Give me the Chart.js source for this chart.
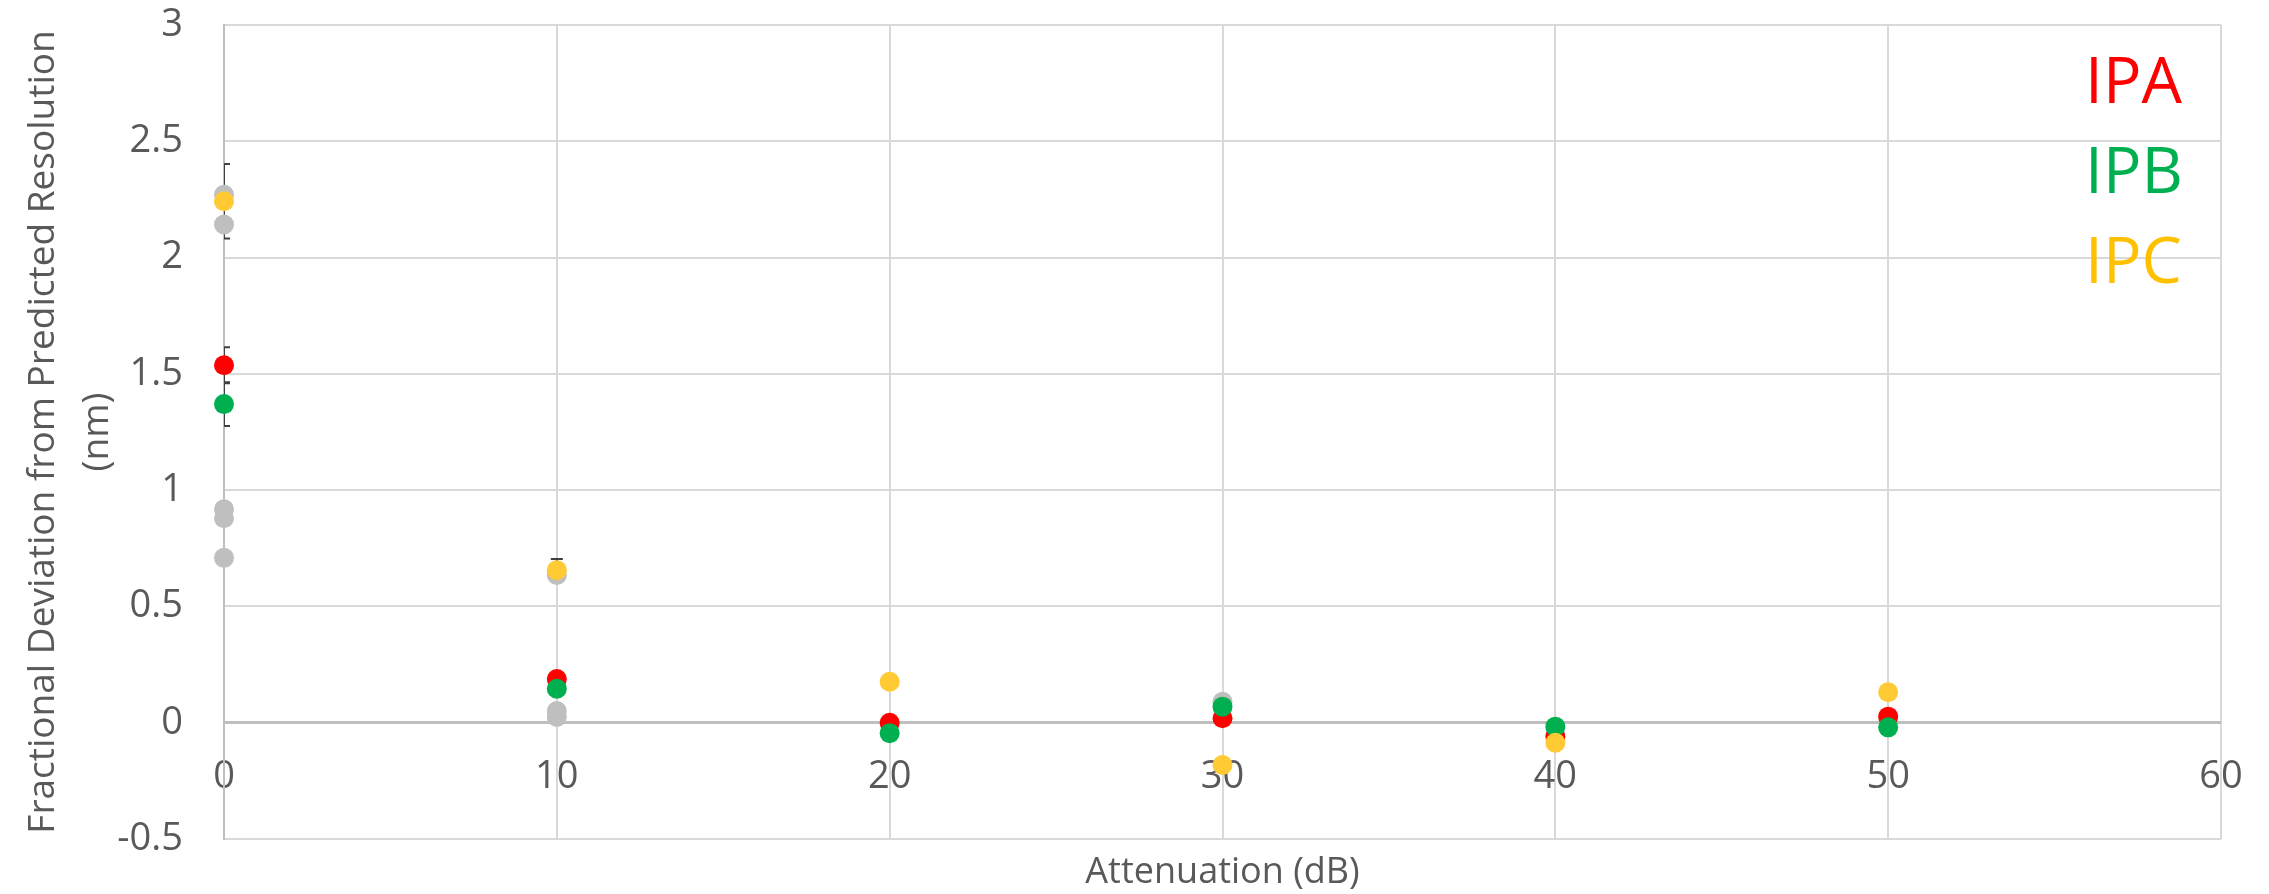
<!DOCTYPE html>
<html>
<head>
<meta charset="utf-8">
<title>Fractional Deviation vs Attenuation</title>
<script src="https://cdn.jsdelivr.net/npm/chart.js@4.4.1/dist/chart.umd.min.js"></script>
<style>
  html, body { margin: 0; padding: 0; background: #fff; }
  #wrap { width: 2269px; height: 894px; position: relative; }
</style>
</head>
<body>
<div id="wrap"><canvas id="chart"></canvas></div>
<script>
// ===========================
// Data
// ===========================
const attenuation = [0, 10, 20, 30, 40, 50]
const ipaValues = [1.537, 0.188, 0.0, 0.019, -0.06, 0.026]
const ipbValues = [1.37, 0.146, -0.045, 0.069, -0.017, -0.02]
const ipcValues = [2.242, 0.656, 0.176, -0.182, -0.086, 0.131]
const ipaErrors = [0.077, 0, 0, 0, 0, 0]
const ipbErrors = [0.094, 0, 0, 0, 0, 0]
const ipcErrors = [0.16, 0.048, 0, 0, 0, 0]

// unlabelled grey points
const otherX = [0, 0, 0, 0, 0, 10, 10, 10, 30]
const otherY = [2.27, 2.142, 0.918, 0.879, 0.709, 0.635, 0.05, 0.025, 0.09]

const seriesNames = ['IPA', 'IPB', 'IPC']
const xTicks = [0, 10, 20, 30, 40, 50, 60]
const yTicks = [-0.5, 0, 0.5, 1, 1.5, 2, 2.5, 3]

const FONT = '"Open Sans", "Noto Sans", sans-serif'
const TEXT = '#595959'
const colors = {
  red: '#ff0000',
  green: '#00b050',
  yellow: '#ffca33',
  yellowText: '#ffc000',
  grey: '#bfbfbf'
}

const toPoints = (xs, ys) => xs.map((x, i) => ({ x, y: ys[i] }))
const fixedTicks = (values) => (scale) => { scale.ticks = values.map((value) => ({ value })) }

// error bars drawn under the markers
const errorBars = {
  id: 'errorBars',
  beforeDatasetsDraw(chart) {
    const { ctx, chartArea, scales } = chart
    ctx.save()
    ctx.beginPath()
    ctx.rect(chartArea.left, chartArea.top, chartArea.width, chartArea.height)
    ctx.clip()
    ctx.strokeStyle = '#404040'
    ctx.lineWidth = 2
    chart.data.datasets.forEach((ds) => {
      if (!ds.errors) return
      ds.data.forEach((p, i) => {
        const e = ds.errors[i]
        if (!e) return
        const px = scales.x.getPixelForValue(p.x)
        const top = scales.y.getPixelForValue(p.y + e)
        const bot = scales.y.getPixelForValue(p.y - e)
        ctx.beginPath()
        ctx.moveTo(px, top)
        ctx.lineTo(px, bot)
        ctx.moveTo(px - 6, top)
        ctx.lineTo(px + 6, top)
        ctx.moveTo(px - 6, bot)
        ctx.lineTo(px + 6, bot)
        ctx.stroke()
      })
    })
    ctx.restore()
  }
}

// coloured series names, top right inside the plot
const textLegend = {
  id: 'textLegend',
  afterDraw(chart) {
    const { ctx, chartArea } = chart
    const legendColors = [colors.red, colors.green, colors.yellowText]
    ctx.save()
    ctx.font = `64px ${FONT}`
    ctx.textAlign = 'left'
    ctx.textBaseline = 'alphabetic'
    seriesNames.forEach((name, i) => {
      ctx.fillStyle = legendColors[i]
      ctx.fillText(name, chartArea.right - 136, chartArea.top + 78 + i * 90)
    })
    ctx.restore()
  }
}

const pointStyle = (color, order) => ({
  backgroundColor: color,
  borderColor: color,
  borderWidth: 0,
  pointRadius: 10,
  pointHoverRadius: 10,
  clip: false,
  order
})

new Chart(document.getElementById('chart'), {
  type: 'scatter',
  data: {
    datasets: [
      { label: seriesNames[0], data: toPoints(attenuation, ipaValues), errors: ipaErrors, ...pointStyle(colors.red, 2) },
      { label: seriesNames[1], data: toPoints(attenuation, ipbValues), errors: ipbErrors, ...pointStyle(colors.green, 1) },
      { label: seriesNames[2], data: toPoints(attenuation, ipcValues), errors: ipcErrors, ...pointStyle(colors.yellow, 0) },
      { label: 'other', data: toPoints(otherX, otherY), ...pointStyle(colors.grey, 3) }
    ]
  },
  options: {
    responsive: true,
    maintainAspectRatio: false,
    animation: false,
    layout: { padding: { top: 25, right: 48, left: 0, bottom: 0 } },
    plugins: {
      legend: { display: false },
      tooltip: { enabled: false }
    },
    scales: {
      x: {
        type: 'linear',
        position: 'bottom',
        min: 0,
        max: 60,
        afterBuildTicks: fixedTicks(xTicks),
        afterFit: (scale) => {
          scale.height = 55
          scale.paddingLeft = 0
          scale.paddingRight = 0
        },
        ticks: { display: false },
        grid: { color: '#d9d9d9', lineWidth: 2, drawTicks: false },
        border: { display: false },
        title: {
          display: true,
          text: 'Attenuation (dB)',
          color: TEXT,
          font: { family: FONT, size: 36 },
          padding: { top: 0, bottom: 0 }
        }
      },
      // tick labels sit under the y = 0 line, as in the original
      xLabels: {
        type: 'linear',
        axis: 'x',
        position: { y: 0 },
        min: 0,
        max: 60,
        afterBuildTicks: fixedTicks(xTicks),
        afterFit: (scale) => {
          scale.paddingLeft = 0
          scale.paddingRight = 0
        },
        ticks: { color: TEXT, font: { family: FONT, size: 38 }, padding: 32, callback: (v) => `${v}` },
        grid: { display: false, drawTicks: false },
        border: { display: false }
      },
      y: {
        type: 'linear',
        min: -0.5,
        max: 3,
        afterBuildTicks: fixedTicks(yTicks),
        afterFit: (scale) => {
          scale.width = 224
          scale.paddingTop = 0
          scale.paddingBottom = 0
        },
        ticks: { color: TEXT, font: { family: FONT, size: 38 }, padding: 41, callback: (v) => `${v}` },
        grid: {
          drawTicks: false,
          color: (c) => (c.tick && c.tick.value === 0 ? '#bfbfbf' : '#d9d9d9'),
          lineWidth: (c) => (c.tick && c.tick.value === 0 ? 3 : 2)
        },
        border: { display: true, color: '#bfbfbf', width: 2 },
        title: {
          display: true,
          text: ['Fractional Deviation from Predicted Resolution', '(nm)'],
          color: TEXT,
          font: { family: FONT, size: 37, lineHeight: 1.46 },
          padding: { top: 16, bottom: 0 }
        }
      }
    }
  },
  plugins: [errorBars, textLegend]
})
</script>
</body>
</html>
